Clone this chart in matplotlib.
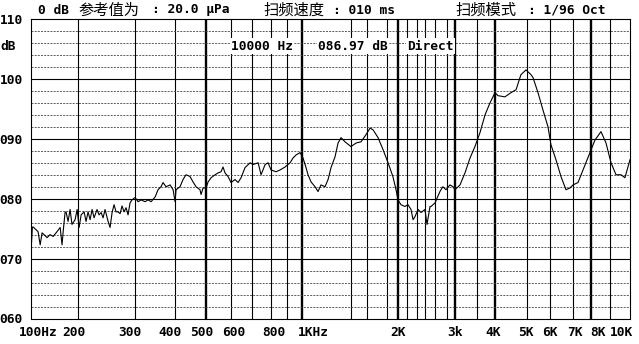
import matplotlib
matplotlib.use('Agg')
import matplotlib.pyplot as plt
import matplotlib.transforms as mtransforms

# measured response, Hz / dB
freq = [142, 143.6, 144.3, 149.6, 151.9, 154, 159.7, 163.1, 166.7, 171.5, 175.4, 177.8, 179.1, 181.7,
        183, 185.7, 188.4, 191, 195.3, 198.2, 201, 204, 208.4, 211.3, 214.4, 217.6, 220.7, 223.9,
        228.7, 232.1, 235.5, 238.9, 242.3, 247.7, 251.2, 254.9, 258.5, 262.3, 266.1, 270, 273.8,
        277.8, 281.8, 285.9, 290, 294.2,
        300.7, 307.3, 314.1, 323.1, 330.2, 337.6, 347.5, 354.8, 362.5, 367.8, 375.8, 387, 395.4,
        401, 403.9, 415.6, 424.7, 433.9, 446.7, 456.4, 466.3, 479.8, 483.5, 490.7, 501.2, 508.6,
        519.6, 534.8, 546.4, 558.3, 566.3, 574.6, 587.3, 600,
        617.6, 631, 644.8, 663.7, 688.3, 702.8, 728.8, 744.7, 766.6, 783.2, 800, 829.8, 853.7,
        885.5, 917.4, 937.6, 957.8, 985.7, 1007, 1029, 1044, 1067, 1098, 1122, 1146, 1180, 1206, 1232,
        1268, 1296, 1324, 1362, 1422, 1476, 1529, 1585, 1632, 1667, 1728, 1791, 1857, 1923, 1967,
        1995, 2038, 2098, 2143, 2191, 2223, 2254, 2305, 2355, 2422, 2458, 2512,
        2530, 2604, 2698, 2754, 2818, 2900, 2964, 3006, 3117, 3230, 3350, 3470, 3597, 3732, 3868,
        4009, 4098, 4306, 4497, 4666, 4831, 5012, 5196,
        5272, 5464, 5663, 5871, 5998, 6218, 6446, 6683, 6879, 7030, 7286, 7553, 7943, 8234, 8597,
        8913, 9240, 9577, 9928, 10213, 10440, 10593]
level = [70.5, 75.2, 75.3, 74.5, 72.3, 74.3, 73.5, 74.0, 73.7, 74.5, 75.2, 72.3, 74.3, 77.7,
         77.8, 76.2, 78.2, 75.7, 76.5, 78.2, 75.2, 77.3, 77.8, 76.2, 77.8, 76.5, 78.2, 76.8,
         78.2, 77.3, 77.7, 76.8, 78.2, 76.2, 75.2, 77.7, 79.0, 77.8, 77.8, 77.5, 78.8,
         77.8, 78.5, 77.3, 79.3, 79.8,
         80.2, 79.5, 79.8, 79.5, 79.8, 79.5, 80.3, 81.5, 82.0, 82.7, 82.0, 82.3, 81.5,
         79.5, 81.5, 82.0, 83.2, 84.0, 83.7, 82.8, 82.0, 81.5, 80.7, 81.8, 81.8, 82.8,
         83.5, 84.0, 84.3, 84.5, 85.3, 84.3, 83.7, 82.7,
         83.2, 82.7, 83.5, 85.2, 86.0, 85.7, 86.0, 84.0, 85.7, 86.0, 84.8, 84.5, 84.8,
         85.3, 86.0, 86.8, 87.3, 87.7, 86.8, 85.2, 84.0, 82.8, 82.0, 81.2, 82.3, 82.0, 83.2, 85.2,
         87.0, 89.3, 90.2, 89.5, 88.7, 89.3, 89.5, 90.7, 91.8, 91.5, 90.2, 88.2, 86.0, 83.7, 81.5,
         79.8, 79.0, 78.7, 79.0, 78.2, 76.5, 77.0, 78.2, 77.7, 78.2, 75.7, 78.7,
         78.7, 79.3, 81.2, 82.0, 81.5, 82.3, 82.0, 81.5, 82.3, 84.3, 86.8, 88.7, 91.0, 94.0, 96.0,
         97.7, 97.2, 97.0, 97.7, 98.2, 100.7, 101.5, 100.7,
         100.2, 97.7, 94.8, 92.0, 89.0, 86.5, 83.7, 81.5, 81.8, 82.3, 82.7, 84.8, 87.7, 89.8, 91.2,
         89.3, 86.0, 84.0, 84.0, 83.5, 85.3, 86.5]

# instrument grid
grid_freq = [200, 300, 400, 500, 600, 700, 800, 900, 1000, 1420, 1600, 1840, 2000, 2130, 2280,
             2420, 2600, 2830, 3000, 3510, 4000, 5030, 5960, 7040, 8000, 9180]
bold_freq = [500, 1000, 2000, 3000, 4000, 8000]
x_labels = ['100Hz', '200', '300', '400', '500', '600', '800', '1KHz',
            '2K', '3k', '4K', '5K', '6K', '7K', '8K', '10K']
x_label_pos = [150, 194, 290, 387, 487, 613, 818, 1082,
               2000, 3006, 3953, 5012, 5958, 7131, 8425, 10000]
y_ticks = [60, 70, 80, 90, 100, 110]
y_labels = ['060', '070', '080', '090', '100', '110']

W, H = 639, 344
mono = 'DejaVu Sans Mono'
cjk = 'Noto Sans CJK SC'

fig = plt.figure(figsize=(W / 100, H / 100), dpi=100)
ax = fig.add_axes([31 / W, 1 - 318.5 / H, 599 / W, 299.5 / H])
ax.set_xscale('log')
ax.set_xlim(142.2, 10593)
ax.set_ylim(60, 110)

for f in grid_freq:
    ax.axvline(f, color='black', lw=1.7 if f in bold_freq else 0.8, zorder=1)
for v in range(62, 110, 2):
    if v % 10 == 0:
        ax.axhline(v, color='black', lw=0.8, zorder=1)
    else:
        ax.axhline(v, color='#444444', lw=0.6, dashes=(2.4, 1.4), zorder=1)

ax.plot(freq, level, color='black', lw=0.8, zorder=3)

for s in ax.spines.values():
    s.set_linewidth(0.8)

ax.set_yticks(y_ticks)
ax.set_yticklabels(y_labels, fontfamily=mono, fontweight='bold', fontsize=9.3)
ax.set_xticks([])
ax.minorticks_off()
ax.tick_params(axis='y', length=0, pad=6)

trans = mtransforms.blended_transform_factory(ax.transData, ax.transAxes)
for lab, pos in zip(x_labels, x_label_pos):
    ax.text(pos, -14 / 299.5, lab, transform=trans, ha='center', va='center',
            fontfamily=mono, fontweight='bold', fontsize=9.3, clip_on=False)

fig.text(0.5 / W, 1 - 46 / H, 'dB', ha='left', va='center',
         fontfamily=mono, fontweight='bold', fontsize=9.3)

# header line
hy = 1 - 10 / H
fig.text(38 / W, hy, '0 dB', ha='left', va='center', fontfamily=mono, fontweight='bold', fontsize=9.3)
fig.text(78 / W, hy, '参考值为', ha='left', va='center', fontfamily=cjk, fontsize=11)
fig.text(152 / W, hy, ': 20.0 μPa', ha='left', va='center', fontfamily=mono, fontweight='bold', fontsize=9.3)
fig.text(263 / W, hy, '扫频速度', ha='left', va='center', fontfamily=cjk, fontsize=11)
fig.text(333 / W, hy, ': 010 ms', ha='left', va='center', fontfamily=mono, fontweight='bold', fontsize=9.3)
fig.text(455 / W, hy, '扫频模式', ha='left', va='center', fontfamily=cjk, fontsize=11)
fig.text(528 / W, hy, ': 1/96 Oct', ha='left', va='center', fontfamily=mono, fontweight='bold', fontsize=9.3)

# marker readout inside the plot
box = dict(facecolor='white', edgecolor='none', pad=1)
ry = 1 - 46 / H
fig.text(231 / W, ry, '10000 Hz', ha='left', va='center', fontfamily=mono, fontweight='bold',
         fontsize=9.3, bbox=box, zorder=5)
fig.text(318 / W, ry, '086.97 dB', ha='left', va='center', fontfamily=mono, fontweight='bold',
         fontsize=9.3, bbox=box, zorder=5)
fig.text(407 / W, ry, 'Direct', ha='left', va='center', fontfamily=mono, fontweight='bold',
         fontsize=9.3, bbox=box, zorder=5)

fig.savefig('out.png', dpi=100)
